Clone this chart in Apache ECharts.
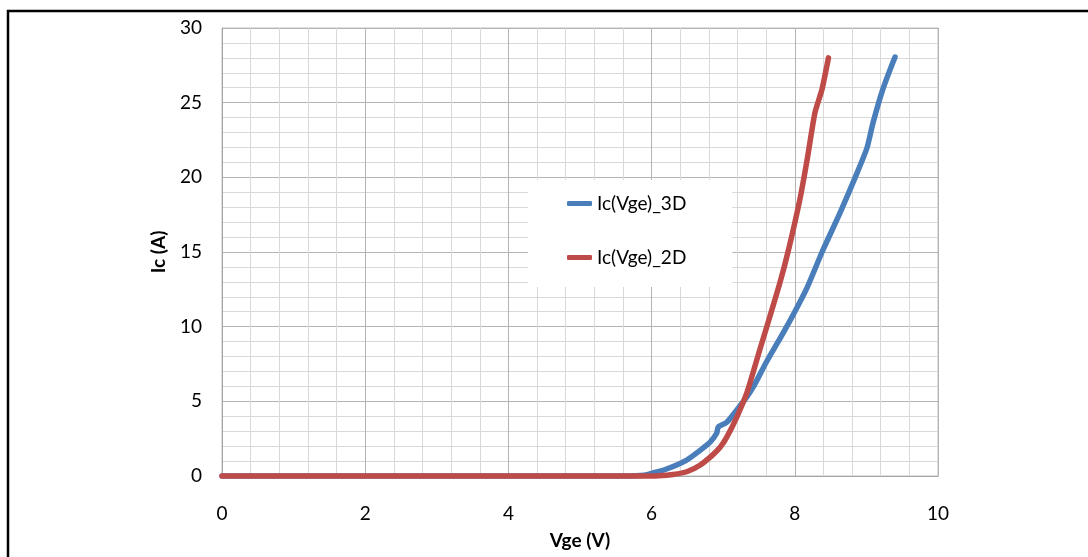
<!DOCTYPE html>
<html>
<head>
<meta charset="utf-8">
<script src="https://cdn.jsdelivr.net/npm/echarts@6/dist/echarts.min.js"></script>
<style>
html,body{margin:0;padding:0;background:#fff;}
#c{width:1088px;height:557px;}
</style>
</head>
<body>
<div id="c"></div>
<script>
// Data
const xTicks = [0, 2, 4, 6, 8, 10];
const yTicks = [0, 5, 10, 15, 20, 25, 30];
const seriesNames = ['Ic(Vge)_3D', 'Ic(Vge)_2D'];

const vge3D = [0, 1, 2, 3, 4, 5, 5.6, 5.9, 6.02, 6.2, 6.49, 6.7, 6.82, 6.91, 6.93, 7.05, 7.19, 7.33, 7.42, 7.6, 7.84, 8.0, 8.17, 8.39, 8.63, 8.87, 9.01, 9.09, 9.23, 9.40];
const ic3D  = [0, 0, 0, 0, 0, 0, 0, 0.05, 0.2, 0.45, 1.07, 1.8, 2.28, 2.88, 3.28, 3.6, 4.42, 5.3, 5.96, 7.6, 9.6, 11.0, 12.6, 15.1, 17.6, 20.3, 22.0, 23.6, 25.9, 28.06];

const vge2D = [0, 1, 2, 3, 4, 5, 5.8, 6.1, 6.3, 6.5, 6.68, 6.85, 6.96, 7.05, 7.19, 7.33, 7.51, 7.65, 7.79, 7.91, 8.07, 8.18, 8.28, 8.38, 8.47];
const ic2D  = [0, 0, 0, 0, 0, 0, 0, 0.02, 0.1, 0.3, 0.74, 1.4, 1.94, 2.6, 3.95, 5.56, 8.44, 10.65, 12.9, 15.1, 18.5, 21.4, 24.3, 25.9, 28.0];

const pairs = (xs, ys) => xs.map((x, i) => [x, ys[i]]);

const FONT = 'Lato';
const chart = echarts.init(document.getElementById('c'), null, {renderer: 'canvas'});
chart.setOption({
  animation: false,
  backgroundColor: '#ffffff',
  textStyle: {fontFamily: FONT},
  grid: {
    left: 222, right: 150, top: 28, bottom: 81,
    show: true, borderColor: '#bfbfbf', borderWidth: 1, backgroundColor: 'transparent'
  },
  xAxis: {
    type: 'value',
    min: xTicks[0], max: xTicks[xTicks.length - 1], interval: 2,
    name: 'Vge (V)', nameLocation: 'middle', nameGap: 55,
    nameTextStyle: {fontFamily: FONT, fontSize: 19, fontWeight: 'bold', color: '#000'},
    axisLine: {show: true, lineStyle: {color: '#a6a6a6', width: 1}},
    axisTick: {show: false},
    axisLabel: {fontFamily: FONT, fontSize: 19, color: '#000', margin: 28},
    splitLine: {show: true, lineStyle: {color: '#b3b3b3', width: 1}},
    minorTick: {show: false, splitNumber: 5},
    minorSplitLine: {show: true, lineStyle: {color: '#d9d9d9', width: 1}}
  },
  yAxis: {
    type: 'value',
    min: yTicks[0], max: yTicks[yTicks.length - 1], interval: 5,
    name: 'Ic (A)', nameLocation: 'middle', nameGap: 54, nameRotate: 90,
    nameTextStyle: {fontFamily: FONT, fontSize: 19, fontWeight: 'bold', color: '#000'},
    axisLine: {show: true, lineStyle: {color: '#a6a6a6', width: 1}},
    axisTick: {show: false},
    axisLabel: {fontFamily: FONT, fontSize: 19, color: '#000', margin: 20},
    splitLine: {show: true, lineStyle: {color: '#b3b3b3', width: 1}},
    minorTick: {show: false, splitNumber: 5},
    minorSplitLine: {show: true, lineStyle: {color: '#d9d9d9', width: 1}}
  },
  legend: {
    show: true,
    orient: 'vertical',
    left: 528, top: 180,
    padding: [14, 46, 20, 39],
    itemGap: 35,
    itemWidth: 25, itemHeight: 5,
    icon: 'roundRect',
    textStyle: {fontFamily: FONT, fontSize: 19, color: '#000'},
    backgroundColor: '#ffffff',
    z: 10,
    data: seriesNames
  },
  graphic: [
    {
      type: 'polyline', z: 100,
      shape: {points: [[8, 557], [8, 11], [1088, 11]]},
      style: {stroke: '#000', lineWidth: 2.5, fill: null}
    }
  ],
  series: [
    {
      name: seriesNames[0], type: 'line', data: pairs(vge3D, ic3D),
      showSymbol: false, smooth: 0.2, clip: false,
      lineStyle: {color: '#4a7ebb', width: 5.5, cap: 'round', join: 'round'},
      itemStyle: {color: '#4a7ebb'}
    },
    {
      name: seriesNames[1], type: 'line', data: pairs(vge2D, ic2D),
      showSymbol: false, smooth: 0.2, clip: false,
      lineStyle: {color: '#be4b48', width: 5.5, cap: 'round', join: 'round'},
      itemStyle: {color: '#be4b48'}
    }
  ]
});
</script>
</body>
</html>
